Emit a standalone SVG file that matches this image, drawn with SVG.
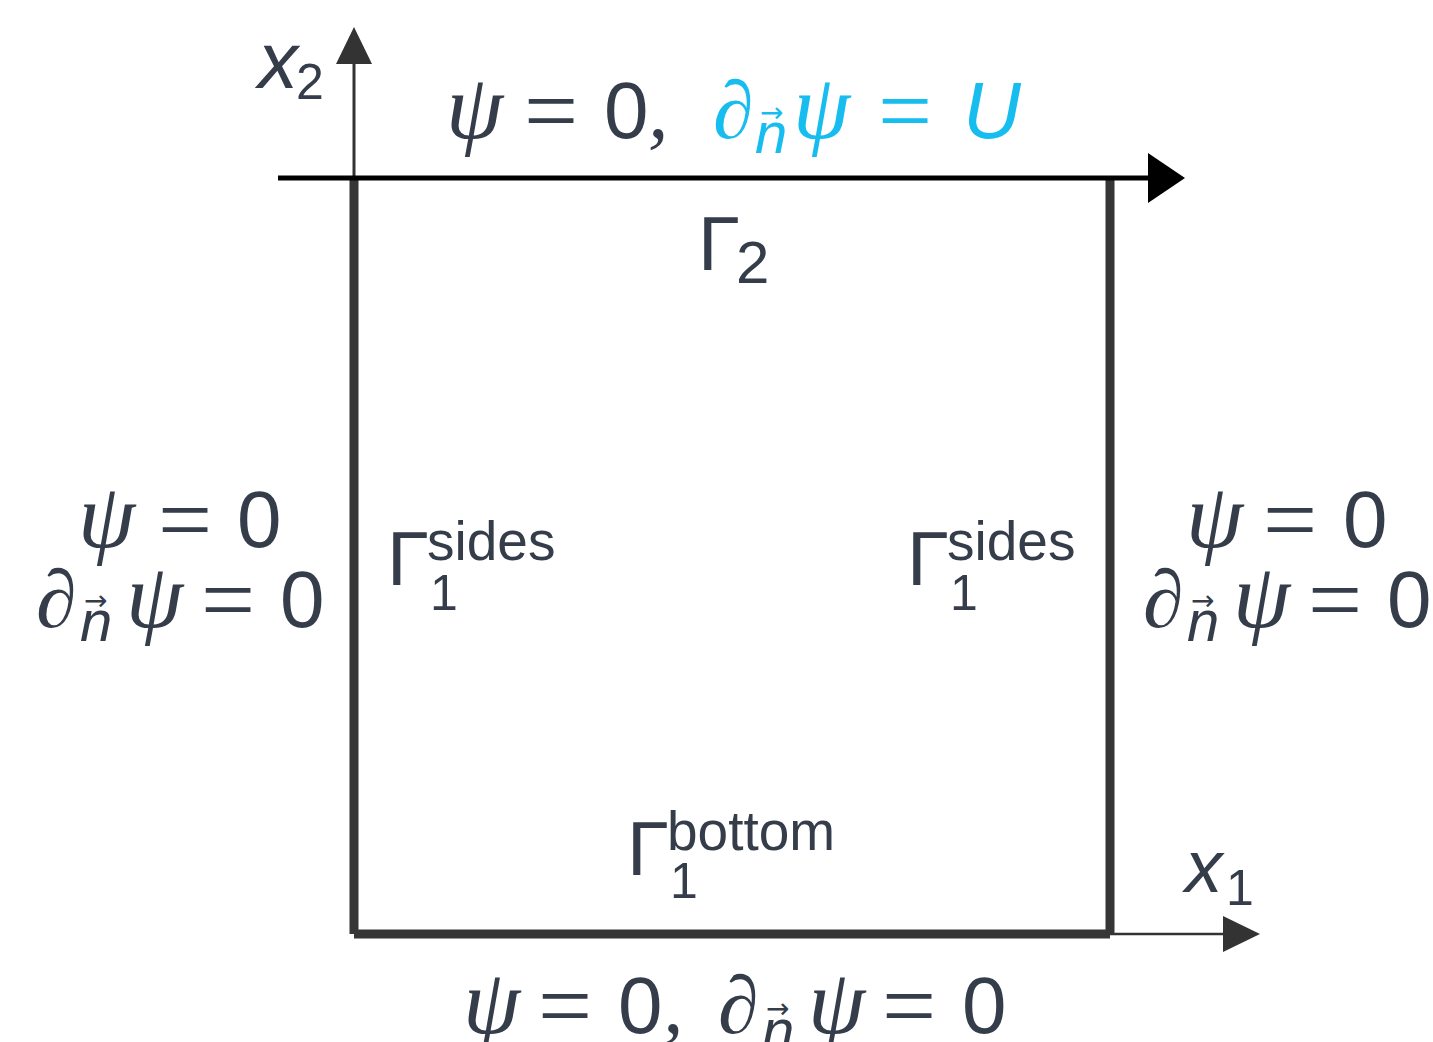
<svg xmlns="http://www.w3.org/2000/svg" width="1433" height="1042" viewBox="0 0 1433 1042">
<style>
.t{fill:#353d4a}
.c{fill:#18bdf0}
.sans{font-family:"Liberation Sans",Arial,sans-serif}
.it{font-style:italic}
.m{font-family:"Liberation Serif","DejaVu Serif",serif;font-style:italic;font-size:82px}
.psi{font-family:"Liberation Serif","DejaVu Serif",serif;font-style:italic;font-size:92px}
.eq{font-family:"Liberation Serif","DejaVu Serif",serif;font-size:96px;text-anchor:middle}
.num{font-family:"Liberation Sans",Arial,sans-serif;font-size:80px}
.sub{font-family:"Liberation Sans",Arial,sans-serif;font-style:italic;font-size:58px}
.vec{font-family:"DejaVu Sans",sans-serif;font-size:28px}
.wall{stroke:#363636;stroke-width:9;fill:none}
</style>
<defs>
<marker id="ahBlack" markerUnits="userSpaceOnUse" viewBox="0 0 37 50" refX="0" refY="25" markerWidth="37" markerHeight="50" orient="auto"><path d="M0,0 L37,25 L0,50 Z" fill="#000"/></marker>
<marker id="ahGrey" markerUnits="userSpaceOnUse" viewBox="0 0 37 36" refX="0" refY="18" markerWidth="37" markerHeight="36" orient="auto"><path d="M0,0 L37,18 L0,36 Z" fill="#333"/></marker>
</defs>
<rect width="1433" height="1042" fill="#fff"/>
<g id="connectors">
<line x1="354" y1="178" x2="354" y2="64" stroke="#333" stroke-width="3" marker-end="url(#ahGrey)"/>
<line x1="1110" y1="934" x2="1223" y2="934" stroke="#333" stroke-width="2.5" marker-end="url(#ahGrey)"/>
</g>
<g id="box">
<line class="wall" x1="354" y1="178" x2="354" y2="934"/>
<line class="wall" x1="1110" y1="178" x2="1110" y2="934"/>
<line class="wall" x1="354" y1="934" x2="1110" y2="934"/>
</g>
<g id="top-axis">
<line x1="278" y1="178" x2="1148" y2="178" stroke="#000" stroke-width="5" marker-end="url(#ahBlack)"/>
</g>
<g id="label-x2" class="t sans it">
<text x="258" y="88" font-size="80">x</text>
<text x="296" y="99" font-size="50" font-style="normal">2</text>
</g>
<g id="label-x1" class="t sans it">
<text x="1185" y="892" font-size="75">x</text>
<text x="1226" y="905" font-size="50" font-style="normal">1</text>
</g>
<g id="gamma2" class="t sans">
<text x="698" y="270" font-size="76">Γ</text>
<text x="736" y="283" font-size="60">2</text>
</g>
<g id="gamma1-sides-left" class="t sans">
<text x="387" y="585" font-size="76">Γ</text>
<text x="427" y="560" font-size="55">sides</text>
<text x="430" y="610" font-size="50">1</text>
</g>
<g id="gamma1-sides-right" class="t sans">
<text x="907" y="585" font-size="76">Γ</text>
<text x="947" y="560" font-size="55">sides</text>
<text x="950" y="610" font-size="50">1</text>
</g>
<g id="gamma1-bottom" class="t sans">
<text x="627" y="875" font-size="76">Γ</text>
<text x="667" y="850" font-size="55">bottom</text>
<text x="670" y="898" font-size="50">1</text>
</g>
<g id="bc-top">
<text class="psi t" x="446" y="138">ψ</text>
<text class="eq t" x="551" y="143">=</text>
<text class="num t" x="604" y="138">0</text>
<text class="m t" x="648" y="138" font-style="normal">,</text>
<text class="m c" x="713" y="138">∂</text>
<text class="sub c" x="755" y="153">n</text>
<text class="vec c" x="760" y="122">→</text>
<text class="psi c" x="793" y="138">ψ</text>
<text class="eq c" x="905" y="143">=</text>
<text class="num c it" x="963" y="138">U</text>
</g>
<g id="bc-left">
<text class="psi t" x="78" y="547">ψ</text>
<text class="eq t" x="185" y="552">=</text>
<text class="num t" x="237" y="547">0</text>
<text class="m t" x="36" y="627">∂</text>
<text class="sub t" x="80" y="641">n</text>
<text class="vec t" x="84" y="610">→</text>
<text class="psi t" x="126" y="627">ψ</text>
<text class="eq t" x="228" y="632">=</text>
<text class="num t" x="280" y="627">0</text>
</g>
<g id="bc-right">
<text class="psi t" x="1186" y="547">ψ</text>
<text class="eq t" x="1290" y="552">=</text>
<text class="num t" x="1343" y="547">0</text>
<text class="m t" x="1143" y="627">∂</text>
<text class="sub t" x="1187" y="641">n</text>
<text class="vec t" x="1191" y="610">→</text>
<text class="psi t" x="1233" y="627">ψ</text>
<text class="eq t" x="1335" y="632">=</text>
<text class="num t" x="1387" y="627">0</text>
</g>
<g id="bc-bottom">
<text class="psi t" x="463" y="1033">ψ</text>
<text class="eq t" x="565" y="1038">=</text>
<text class="num t" x="618" y="1033">0</text>
<text class="m t" x="663" y="1033" font-style="normal">,</text>
<text class="m t" x="718" y="1033">∂</text>
<text class="sub t" x="762" y="1050">n</text>
<text class="vec t" x="766" y="1018">→</text>
<text class="psi t" x="808" y="1033">ψ</text>
<text class="eq t" x="909" y="1038">=</text>
<text class="num t" x="962" y="1033">0</text>
</g>
</svg>
